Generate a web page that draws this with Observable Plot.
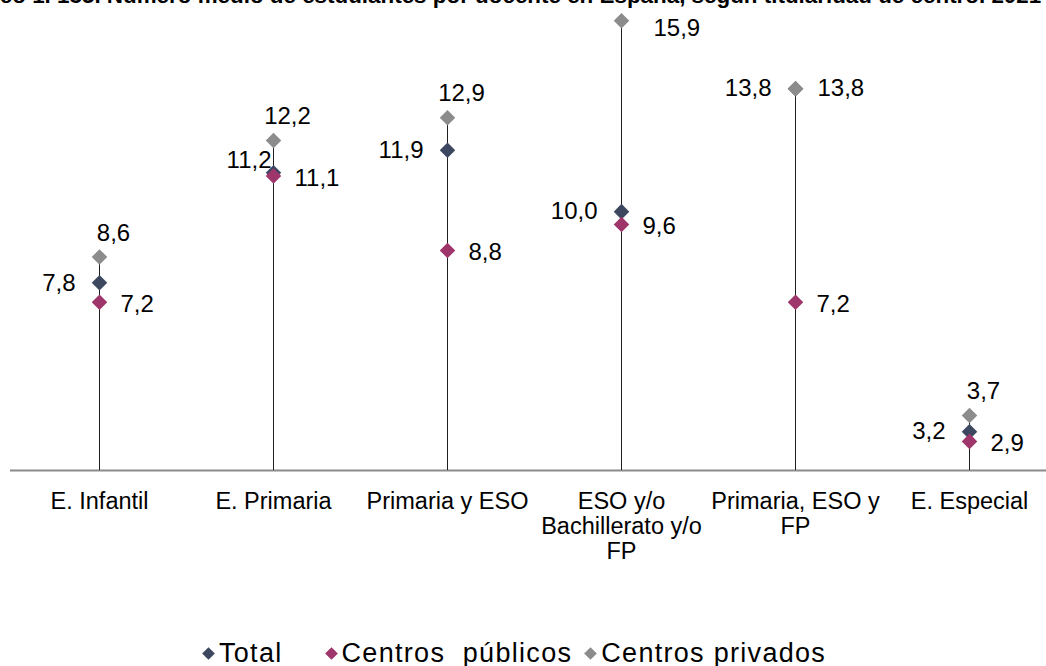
<!DOCTYPE html>
<html>
<head>
<meta charset="utf-8">
<script src="https://cdn.jsdelivr.net/npm/d3@7"></script>
<script src="https://cdn.jsdelivr.net/npm/@observablehq/plot@0.6"></script>
<style>
  html, body { margin: 0; padding: 0; background: #fff; }
  body { width: 1046px; height: 666px; position: relative; overflow: hidden;
         font-family: Arial, "Liberation Sans", sans-serif; color: #000; }
  #title { position: absolute; top: -15px; left: 0; width: 1046px; display: flex; justify-content: center;
           white-space: nowrap; font-weight: bold; font-size: 22.4px; line-height: 22px; }
  #chart { position: absolute; top: 0; left: 0; }
  #legend { position: absolute; top: 638px; left: 0; width: 1046px; display: flex; justify-content: flex-start;
            padding-left: 204px; box-sizing: border-box;
            font-size: 27px; letter-spacing: 1.3px; line-height: 30px; white-space: pre; }
  .item { display: flex; align-items: center; }
  .sw { width: 9px; height: 9px; transform: rotate(45deg); margin-right: 6px; display: inline-block; }
</style>
</head>
<body>
<div id="title"><span>Gráfico 1. 135. Número medio de estudiantes por docente en España, según titularidad de centro. 2021-2022</span></div>
<div id="chart"></div>
<div id="legend"></div>
<script>
// ---- data ----
const categories = ["E. Infantil", "E. Primaria", "Primaria y ESO", "ESO y/o Bachillerato y/o FP", "Primaria, ESO y FP", "E. Especial"];
const tickLabels = ["E. Infantil", "E. Primaria", "Primaria y ESO", "ESO y/o\nBachillerato y/o\nFP", "Primaria, ESO y\nFP", "E. Especial"];
const seriesNames = ["Total", "Centros  públicos", "Centros privados"];
const total    = [7.8, 11.2, 11.9, 10.0, 13.8, 3.2];
const publicos = [7.2, 11.1, 8.8, 9.6, 7.2, 2.9];
const privados = [8.6, 12.2, 12.9, 15.9, 13.8, 3.7];
const colors = ["#3d4760", "#9e356b", "#8c8c8c"];

// ---- build tables ----
const rows = categories.map((c, i) => ({
  cat: c, label: tickLabels[i],
  max: Math.max(total[i], publicos[i], privados[i]),
  total: total[i], publico: publicos[i], privado: privados[i]
}));
const fmt = v => v.toFixed(1).replace(".", ",");
const long = [];
// draw order: Total, privados, públicos (públicos on top)
rows.forEach(r => long.push({cat: r.cat, series: seriesNames[0], value: r.total, other: r.publico}));
rows.forEach(r => long.push({cat: r.cat, series: seriesNames[2], value: r.privado}));
rows.forEach(r => long.push({cat: r.cat, series: seriesNames[1], value: r.publico}));

const totals = long.filter(d => d.series === seriesNames[0]);
const pubs = long.filter(d => d.series === seriesNames[1]);
const privs = long.filter(d => d.series === seriesNames[2]);
const closeTotals = totals.filter(d => Math.abs(d.value - d.other) < 0.2);
const farTotals = totals.filter(d => Math.abs(d.value - d.other) >= 0.2);
const privTop = privs.filter(d => d.value <= 13);
const privRight = privs.filter(d => d.value > 13 && d.value <= 15);
const privRightLow = privs.filter(d => d.value > 15);

const font = "Arial, 'Liberation Sans', sans-serif";
const fs = 24;
const chart = Plot.plot({
  width: 1046, height: 600,
  marginTop: 17, marginBottom: 130, marginLeft: 10, marginRight: -11,
  x: {type: "point", domain: categories, padding: 0.5, axis: null},
  y: {domain: [2, 16], axis: null},
  color: {domain: seriesNames, range: colors},
  style: {fontFamily: font, fontSize: fs + "px", background: "transparent", overflow: "visible"},
  marks: [
    Plot.ruleY([2], {stroke: "#8a8a8a", strokeWidth: 2}),
    Plot.ruleX(rows, {x: "cat", y1: () => 2, y2: "max", stroke: "#1e1e1e", strokeWidth: 1}),
    Plot.dot(long, {x: "cat", y: "value", fill: "series", symbol: "diamond2", r: 7}),
    Plot.text(farTotals, {x: "cat", y: "value", text: d => fmt(d.value), textAnchor: "end", dx: -24, fill: "#000", fontSize: fs}),
    Plot.text(closeTotals, {x: "cat", y: "value", text: d => fmt(d.value), textAnchor: "end", dx: -2, dy: -13, fill: "#000", fontSize: fs}),
    Plot.text(pubs, {x: "cat", y: "value", text: d => fmt(d.value), textAnchor: "start", dx: 21, dy: 2, fill: "#000", fontSize: fs}),
    Plot.text(privTop, {x: "cat", y: "value", text: d => fmt(d.value), textAnchor: "middle", dx: 14, dy: -24, fill: "#000", fontSize: fs}),
    Plot.text(privRight, {x: "cat", y: "value", text: d => fmt(d.value), textAnchor: "start", dx: 22, fill: "#000", fontSize: fs}),
    Plot.text(privRightLow, {x: "cat", y: "value", text: d => fmt(d.value), textAnchor: "start", dx: 32, dy: 8, fill: "#000", fontSize: fs}),
    Plot.text(rows, {x: "cat", frameAnchor: "bottom", text: "label", lineAnchor: "top", dy: 21, lineHeight: 1.06, fill: "#000", fontSize: 23.5})
  ]
});
document.getElementById("chart").append(chart);

// legend
const legend = document.getElementById("legend");
const legendGaps = [44, 14, 0];
seriesNames.forEach((s, i) => {
  const it = document.createElement("div");
  it.className = "item";
  it.style.marginRight = legendGaps[i] + "px";
  const sw = document.createElement("span");
  sw.className = "sw"; sw.style.background = colors[i];
  const tx = document.createElement("span");
  tx.textContent = s;
  it.append(sw, tx);
  legend.append(it);
});
</script>
</body>
</html>
